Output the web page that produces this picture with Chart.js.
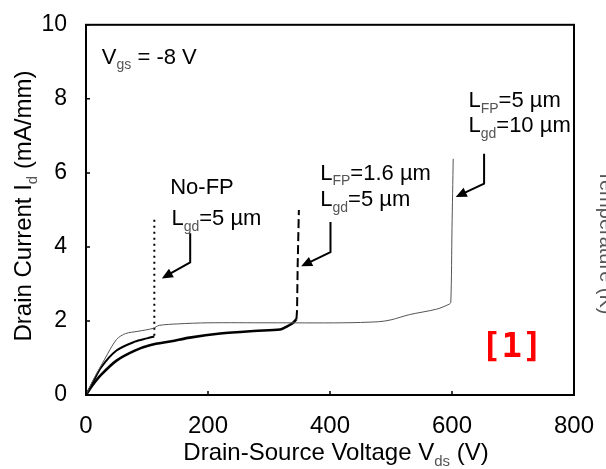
<!DOCTYPE html>
<html>
<head>
<meta charset="utf-8">
<script src="https://cdn.jsdelivr.net/npm/chart.js@4.4.1/dist/chart.umd.min.js"></script>
<style>
  html, body { margin: 0; padding: 0; background: #fff; overflow: hidden; }
  #wrap { position: relative; width: 606px; height: 469px; }
  #side {
    position: absolute; left: 596px; top: 170px;
    transform-origin: 0 0; transform: rotate(90deg) translateY(-22px);
    font: 20px 'Liberation Sans', Arial, sans-serif; color: #555; white-space: nowrap;
  }
</style>
</head>
<body>
<div id="wrap">
  <canvas id="chart" width="606" height="469"></canvas>
  <div id="side">Temperature (K)</div>
</div>
<script>
// ---- data ----
const xTicks = [0, 200, 400, 600, 800];
const yTicks = [0, 2, 4, 6, 8, 10];

// No-FP, Lgd = 5 um
const noFpV = [0, 10, 25, 50, 80, 100, 112];
const noFpI = [0, 0.3, 0.75, 1.2, 1.44, 1.53, 1.58];
const noFpBreakV = [112, 112];
const noFpBreakI = [1.6, 4.82];

// LFP = 1.6 um, Lgd = 5 um
const fp16V = [0, 10, 25, 50, 80, 106, 140, 170, 220, 275, 318, 328, 338, 345];
const fp16I = [0, 0.25, 0.55, 0.93, 1.2, 1.35, 1.45, 1.55, 1.66, 1.73, 1.77, 1.84, 1.93, 2.05];
const fp16BreakV = [345, 346, 347, 349];
const fp16BreakI = [2.05, 2.3, 3.5, 5.0];

// LFP = 5 um, Lgd = 10 um
const fp5V = [0, 10, 30, 50, 65, 85, 110, 120, 150, 200, 300, 420, 480, 500, 530, 575, 595, 598, 600, 602];
const fp5I = [0, 0.35, 0.95, 1.5, 1.66, 1.72, 1.8, 1.88, 1.92, 1.95, 1.95, 1.95, 1.98, 2.03, 2.17, 2.32, 2.45, 2.5, 4.5, 6.38];

const pts = (xs, ys) => xs.map((x, i) => ({ x: x, y: ys[i] }));

const FONT = "'Liberation Sans', Arial, sans-serif";

// text with subscripts: runs of [text, isSub]
function drawRuns(ctx, runs, x, y, size) {
  let cx = x;
  runs.forEach(r => {
    const sub = r[1];
    ctx.font = (sub ? Math.round(size * 0.62) : size) + 'px ' + FONT;
    ctx.fillStyle = sub ? '#555' : '#000';
    ctx.fillText(r[0], cx, sub ? y + size * 0.26 : y);
    cx += ctx.measureText(r[0]).width;
  });
  return cx - x;
}
function runsWidth(ctx, runs, size) {
  let w = 0;
  runs.forEach(r => {
    ctx.font = (r[1] ? Math.round(size * 0.62) : size) + 'px ' + FONT;
    w += ctx.measureText(r[0]).width;
  });
  return w;
}

// annotations in data units
const labels = [
  { v: 26, i: 8.95, runs: [['V', 0], ['gs', 1], [' = -8 V', 0]] },
  { v: 138, i: 5.42, runs: [['No-FP', 0]] },
  { v: 140, i: 4.58, runs: [['L', 0], ['gd', 1], ['=5 \u00b5m', 0]] },
  { v: 384, i: 5.82, runs: [['L', 0], ['FP', 1], ['=1.6 \u00b5m', 0]] },
  { v: 384, i: 5.10, runs: [['L', 0], ['gd', 1], ['=5 \u00b5m', 0]] },
  { v: 627, i: 7.77, runs: [['L', 0], ['FP', 1], ['=5 \u00b5m', 0]] },
  { v: 627, i: 7.10, runs: [['L', 0], ['gd', 1], ['=10 \u00b5m', 0]] }
];
const arrows = [
  [[170.8, 4.37], [170.8, 3.58], [124.3, 3.15]],
  [[400.8, 4.67], [400.8, 3.86], [352.7, 3.48]],
  [[652.6, 6.52], [652.6, 5.71], [606.1, 5.35]]
];

const decorations = {
  id: 'decorations',
  afterDraw(chart) {
    const ctx = chart.ctx, a = chart.chartArea;
    const xs = chart.scales.x, ys = chart.scales.y;
    ctx.save();
    // frame
    ctx.strokeStyle = '#000';
    ctx.lineWidth = 2;
    ctx.strokeRect(a.left, a.top, a.right - a.left, a.bottom - a.top);
    // inward ticks
    ctx.lineWidth = 1.5;
    ctx.beginPath();
    xTicks.forEach(t => {
      const px = xs.getPixelForValue(t);
      ctx.moveTo(px, a.bottom); ctx.lineTo(px, a.bottom - 4);
    });
    yTicks.forEach(t => {
      const py = ys.getPixelForValue(t);
      ctx.moveTo(a.left, py); ctx.lineTo(a.left + 4, py);
    });
    ctx.stroke();

    ctx.textBaseline = 'alphabetic';
    ctx.textAlign = 'left';
    // annotation labels
    labels.forEach(l => {
      drawRuns(ctx, l.runs, xs.getPixelForValue(l.v), ys.getPixelForValue(l.i), 22);
    });
    // arrows
    ctx.strokeStyle = '#000';
    ctx.fillStyle = '#000';
    ctx.lineWidth = 2;
    arrows.forEach(p => {
      const q = p.map(d => [xs.getPixelForValue(d[0]), ys.getPixelForValue(d[1])]);
      const n = q.length;
      const ang = Math.atan2(q[n - 1][1] - q[n - 2][1], q[n - 1][0] - q[n - 2][0]);
      const back = [q[n - 1][0] - 9 * Math.cos(ang), q[n - 1][1] - 9 * Math.sin(ang)];
      ctx.beginPath();
      ctx.moveTo(q[0][0], q[0][1]);
      for (let k = 1; k < n - 1; k++) ctx.lineTo(q[k][0], q[k][1]);
      ctx.lineTo(back[0], back[1]);
      ctx.stroke();
      ctx.beginPath();
      ctx.moveTo(q[n - 1][0], q[n - 1][1]);
      ctx.lineTo(back[0] - 5 * Math.sin(ang) - 2 * Math.cos(ang), back[1] + 5 * Math.cos(ang) - 2 * Math.sin(ang));
      ctx.lineTo(back[0] + 5 * Math.sin(ang) - 2 * Math.cos(ang), back[1] - 5 * Math.cos(ang) - 2 * Math.sin(ang));
      ctx.closePath();
      ctx.fill();
    });

    // x axis title
    const xRuns = [['Drain-Source Voltage V', 0], ['ds', 1], [' (V)', 0]];
    const xw = runsWidth(ctx, xRuns, 24);
    drawRuns(ctx, xRuns, (a.left + a.right) / 2 - xw / 2 + 6, 460, 24);

    // y axis title
    const yRuns = [['Drain Current I', 0], ['d', 1], [' (mA/mm)', 0]];
    const yw = runsWidth(ctx, yRuns, 24);
    ctx.save();
    ctx.translate(31, 206);
    ctx.rotate(-Math.PI / 2);
    drawRuns(ctx, yRuns, -yw / 2, 0, 24);
    ctx.restore();

    // reference tag
    ctx.font = "bold 34px 'DejaVu Sans Mono', monospace";
    ctx.fillStyle = '#ff0000';
    ctx.fillText('[1]', 481, 357);
    ctx.restore();
  }
};

new Chart(document.getElementById('chart'), {
  type: 'scatter',
  data: {
    datasets: [
      { data: pts(fp5V, fp5I), showLine: true, borderColor: '#555', borderWidth: 1, pointRadius: 0, tension: 0.3 },
      { data: pts(noFpV, noFpI), showLine: true, borderColor: '#000', borderWidth: 2, pointRadius: 0, tension: 0.3 },
      { data: pts(noFpBreakV, noFpBreakI), showLine: true, borderColor: '#000', borderWidth: 2, borderDash: [2, 4], pointRadius: 0 },
      { data: pts(fp16V, fp16I), showLine: true, borderColor: '#000', borderWidth: 2.6, pointRadius: 0, tension: 0.3 },
      { data: pts(fp16BreakV, fp16BreakI), showLine: true, borderColor: '#000', borderWidth: 2, borderDash: [9, 4], pointRadius: 0 }
    ]
  },
  options: {
    responsive: false,
    animation: false,
    layout: { padding: { top: 24, right: 32, left: 0, bottom: 0 } },
    plugins: { legend: { display: false }, tooltip: { enabled: false } },
    scales: {
      x: {
        type: 'linear', min: 0, max: 800,
        afterBuildTicks: s => { s.ticks = xTicks.map(v => ({ value: v })); },
        afterFit: s => { s.height = 74; },
        grid: { display: false }, border: { display: false },
        ticks: { color: '#000', padding: 9, maxRotation: 0, font: { size: 24, family: FONT } }
      },
      y: {
        type: 'linear', min: 0, max: 10,
        afterBuildTicks: s => { s.ticks = yTicks.map(v => ({ value: v })); },
        afterFit: s => { s.width = 86; },
        grid: { display: false }, border: { display: false },
        ticks: { color: '#000', padding: 11, font: { size: 23, family: FONT } }
      }
    }
  },
  plugins: [decorations]
});
</script>
</body>
</html>
